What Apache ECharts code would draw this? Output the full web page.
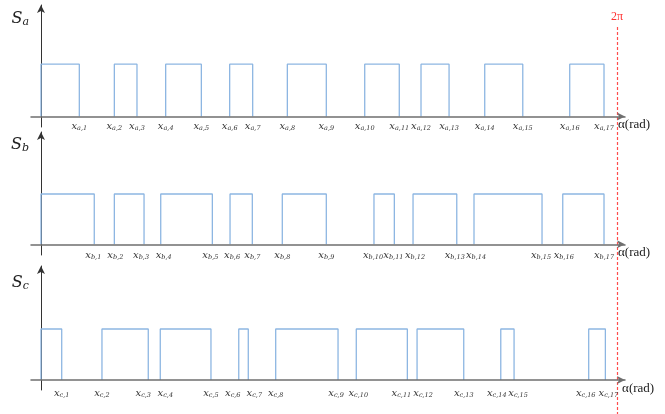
<!DOCTYPE html>
<html>
<head>
<meta charset="utf-8">
<script src="https://cdn.jsdelivr.net/npm/echarts@6/dist/echarts.min.js"></script>
<style>
html, body { margin: 0; padding: 0; background: #fff; }
#chart { width: 665px; height: 414px; }
</style>
</head>
<body>
<div id="chart"></div>
<script>
// switching instants (rad), odd = falling edge, even = rising edge
var phases = ['a', 'b', 'c'];
var edgesA = [0.418, 0.800, 1.047, 1.360, 1.749, 2.058, 2.309, 2.687, 3.112, 3.531, 3.908, 4.145, 4.451, 4.840, 5.255, 5.767, 6.141];
var edgesB = [0.581, 0.800, 1.124, 1.306, 1.869, 2.062, 2.305, 2.632, 3.112, 3.632, 3.854, 4.058, 4.535, 4.723, 5.465, 5.691, 6.141];
var edgesC = [0.226, 0.665, 1.170, 1.301, 1.854, 2.157, 2.261, 2.560, 3.240, 3.439, 3.996, 4.102, 4.611, 5.015, 5.160, 5.974, 6.156];
var edges = [edgesA, edgesB, edgesC];
var highLevel = 1;
var TWO_PI = 2 * Math.PI;

var X_MIN = -0.109, X_MAX = 6.37;
var GRID_W = 594;
var PX = GRID_W / (X_MAX - X_MIN);   // px per rad, only used to push crowded labels apart
var MIN_SEP = 22;
var panels = [
  { top: 5, height: 122, yMin: -0.2, yMax: 2.13, nameGap: -14, labelMargin: -6 },
  { top: 132, height: 123, yMin: -0.213, yMax: 2.233, nameGap: -13, labelMargin: -5 },
  { top: 266, height: 124, yMin: -0.196, yMax: 2.235, nameGap: -17, labelMargin: -2 }
];

// each pulse drawn on its own, '-' breaks the line between pulses
function pulseData(e) {
  var pts = [[0, 0], [0, highLevel]];
  e.forEach(function (v, i) {
    if (i % 2 === 0) { pts.push([v, highLevel]); pts.push([v, 0]); pts.push([v, '-']); }
    else { pts.push([v, 0]); pts.push([v, highLevel]); }
  });
  return pts;
}

// shift (px) of label i away from close neighbours
function labelShift(e, i) {
  var s = 0;
  if (i > 0) { var gl = (e[i] - e[i - 1]) * PX; if (gl < MIN_SEP) s += (MIN_SEP - gl) / 2; }
  if (i < e.length - 1) { var gr = (e[i + 1] - e[i]) * PX; if (gr < MIN_SEP) s -= (MIN_SEP - gr) / 2; }
  return Math.round(s);
}

var rich = {
  x: { fontFamily: 'DejaVu Serif', fontStyle: 'italic', fontSize: 10, color: '#333' },
  s: { fontFamily: 'DejaVu Serif', fontStyle: 'italic', fontSize: 6.5, color: '#333', padding: [4, 0, 0, 0] }
};
for (var n = 1; n <= 24; n++) rich['g' + n] = { width: n, fontSize: 6 };

var grids = [], xAxes = [], yAxes = [], series = [];
panels.forEach(function (p, k) {
  var ph = phases[k];
  var e = edges[k];
  // odd edges first, then even: keeps the first/last two labels apart so none get dropped
  var labelValues = e.filter(function (v, i) { return i % 2 === 0; })
    .concat(e.filter(function (v, i) { return i % 2 === 1; }));
  grids.push({ left: 31, right: 40, top: p.top, height: p.height, outerBoundsMode: 'none', containLabel: false });
  xAxes.push({
    gridIndex: k, type: 'value', min: X_MIN, max: X_MAX, z: 5,
    splitLine: { show: false },
    axisTick: { show: false },
    axisLine: { onZero: true, lineStyle: { color: '#6f6f6f', width: 1.5 }, symbol: ['none', 'arrow'], symbolSize: [6, 8] },
    axisLabel: {
      customValues: labelValues, margin: p.labelMargin, color: '#333', hideOverlap: false,
      formatter: function (v) {
        var i = e.indexOf(v);
        var txt = '{x|x}{s|' + ph + ',' + (i + 1) + '}';
        var sh = labelShift(e, i);
        if (sh > 0) txt = '{g' + (2 * sh) + '| }' + txt;
        if (sh < 0) txt = txt + '{g' + (-2 * sh) + '| }';
        return txt;
      },
      rich: rich
    },
    name: 'α(rad)', nameLocation: 'end', nameGap: -7,
    nameTextStyle: { fontFamily: 'Liberation Serif', fontSize: 13, color: '#222', align: 'left', verticalAlign: 'top', padding: [2, 0, 0, 0] }
  });
  yAxes.push({
    gridIndex: k, type: 'value', min: p.yMin, max: p.yMax,
    splitLine: { show: false }, axisTick: { show: false }, axisLabel: { show: false },
    axisLine: { onZero: true, lineStyle: { color: '#333', width: 1 }, symbol: ['none', 'arrow'], symbolSize: [6, 8] },
    name: '{S|S}{s|' + ph + '}', nameLocation: 'end', nameGap: p.nameGap,
    nameTextStyle: {
      align: 'right', verticalAlign: 'middle', padding: [0, 12, 0, 0],
      rich: {
        S: { fontFamily: 'DejaVu Serif', fontStyle: 'italic', fontSize: 16, color: '#222' },
        s: { fontFamily: 'DejaVu Serif', fontStyle: 'italic', fontSize: 11, color: '#222', padding: [6, 0, 0, 0] }
      }
    }
  });
  series.push({
    type: 'line', xAxisIndex: k, yAxisIndex: k, data: pulseData(e),
    symbol: 'none', animation: false, connectNulls: false,
    lineStyle: { color: '#8db6e2', width: 1.3 }
  });
});

// full-height overlay for the 2π marker
grids.push({ left: 31, right: 40, top: 0, bottom: 0, outerBoundsMode: 'none', containLabel: false });
xAxes.push({ gridIndex: 3, type: 'value', min: X_MIN, max: X_MAX, show: false });
yAxes.push({ gridIndex: 3, type: 'value', min: 0, max: 1, show: false });
series.push({
  type: 'line', xAxisIndex: 3, yAxisIndex: 3, data: [], animation: false,
  markLine: {
    silent: true, symbol: 'none', animation: false,
    lineStyle: { color: '#ff4d4d', type: [3, 2], width: 1.2, opacity: 1 },
    label: { show: true, position: 'start', formatter: '2π', color: '#ff3030', fontFamily: 'Liberation Serif', fontSize: 12, distance: 4 },
    data: [[{ coord: [TWO_PI, 0.935] }, { coord: [TWO_PI, 0] }]]
  }
});

var myChart = echarts.init(document.getElementById('chart'));
myChart.setOption({
  animation: false,
  grid: grids,
  xAxis: xAxes,
  yAxis: yAxes,
  series: series
});
</script>
</body>
</html>
